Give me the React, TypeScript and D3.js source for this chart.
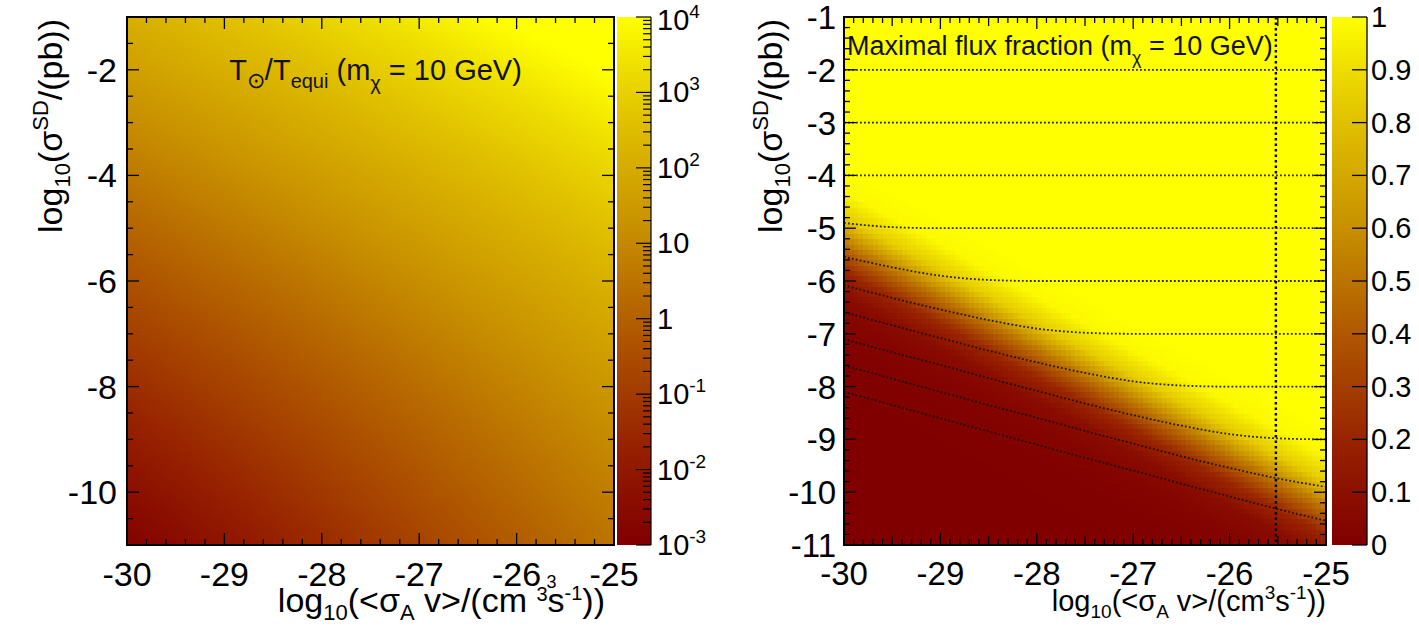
import React, { useEffect, useRef } from 'react';
import * as d3 from 'd3';

const FONT = '"Liberation Sans", Arial, Helvetica, sans-serif';

// ---- shared axis ranges ----
const xDomain = [-30, -25];
const yDomain = [-11, -1];
const xTickValues = [-30, -29, -28, -27, -26, -25];
const leftYTickValues = [-2, -4, -6, -8, -10];
const rightYTickValues = [-1, -2, -3, -4, -5, -6, -7, -8, -9, -10, -11];

// ---- colour palette (dark red -> yellow) ----
const paletteStops = [0, 0.1, 0.2, 0.3, 0.4, 0.5, 0.6, 0.7, 0.8, 0.9, 1];
const paletteColors = [
  '#800000', '#8c1000', '#982400', '#a43e00', '#b05800', '#bc7400',
  '#c89000', '#d4a800', '#e0c000', '#eedd00', '#ffff00',
];

// ---- left panel: log10(T_sun / T_equi) sampled on a 3x3 grid ----
const ratioGridX = [-30, -27.5, -25];
const ratioGridY = [-1, -6, -11];
const ratioLogRowTop = [2.1, 3.35, 4.6];
const ratioLogRowMid = [-0.4, 0.9, 2.2];
const ratioLogRowBottom = [-2.9, -1.1, 0.5];
const leftColorbarExponents = [4, 3, 2, 1, 0, -1, -2, -3];

// ---- right panel: maximal flux fraction ----
// y of the 50% level along the x axis
const edgeX = [-30, -29, -28, -27, -26, -25];
const edgeY = [-5.3, -6.3, -7.3, -8.3, -9.3, -10.3];
// fraction as a function of distance (in decades of sigma) above that level
const profileOffset = [-3, -2, -1.5, -1, -0.5, 0, 0.5, 1, 1.5];
const profileFraction = [0, 0.01, 0.025, 0.07, 0.21, 0.5, 0.84, 0.98, 1];
const rightColorbarTicks = [1, 0.9, 0.8, 0.7, 0.6, 0.5, 0.4, 0.3, 0.2, 0.1, 0];

// dotted iso-flux lines
const contourX = [-30, -29.5, -29, -28.5, -28, -27.5, -27, -26.5, -26, -25.5, -25];
const contourM2 = [-2, -2, -2, -2, -2, -2, -2, -2, -2, -2, -2];
const contourM3 = [-3, -3, -3, -3, -3, -3, -3, -3, -3, -3, -3];
const contourM4 = [-4, -4, -4, -4, -4, -4, -4, -4, -4, -4, -4];
const contourM5 = [-4.9, -4.98, -5, -5, -5, -5, -5, -5, -5, -5, -5];
const contourM6 = [-5.54, -5.74, -5.9, -5.98, -6, -6, -6, -6, -6, -6, -6];
const contourM7 = [-6.08, -6.32, -6.54, -6.74, -6.9, -6.98, -7, -7, -7, -7, -7];
const contourM8 = [-6.59, -6.84, -7.08, -7.32, -7.54, -7.74, -7.9, -7.98, -8, -8, -8];
const contourM9 = [-7.1, -7.35, -7.59, -7.84, -8.08, -8.32, -8.54, -8.74, -8.9, -8.98, -9];
const contourM10 = [-7.6, -7.85, -8.1, -8.35, -8.59, -8.84, -9.08, -9.32, -9.54, -9.74, -9.9];
const contourM11 = [-8.1, -8.35, -8.6, -8.85, -9.1, -9.35, -9.59, -9.84, -10.08, -10.32, -10.54];
const contourSets = [contourM2, contourM3, contourM4, contourM5, contourM6, contourM7, contourM8, contourM9, contourM10, contourM11];
// thermal relic cross-section, log10(3e-26)
const relicSigmaV = -25.52;

// ---- layout ----
const TOP = 17;
const BOTTOM = 545;
const LP = { x0: 127, x1: 614, cb0: 617, cb1: 651 };
const RP = { x0: 844, x1: 1326, cb0: 1332, cb1: 1367 };

const yScale = d3.scaleLinear().domain(yDomain).range([BOTTOM, TOP]);
const xLeft = d3.scaleLinear().domain(xDomain).range([LP.x0, LP.x1]);
const xRight = d3.scaleLinear().domain(xDomain).range([RP.x0, RP.x1]);
const leftCbScale = d3.scaleLog().domain([1e-3, 1e4]).range([BOTTOM, TOP]);
const rightCbScale = d3.scaleLinear().domain([0, 1]).range([BOTTOM, TOP]);

const palette = d3
  .scaleLinear<string>()
  .domain(paletteStops)
  .range(paletteColors)
  .interpolate(d3.interpolateRgb)
  .clamp(true);

const ratioGrid = [ratioLogRowTop, ratioLogRowMid, ratioLogRowBottom];

function lagrange3(nodes: number[], t: number): number[] {
  const [a, b, c] = nodes;
  return [
    ((t - b) * (t - c)) / ((a - b) * (a - c)),
    ((t - a) * (t - c)) / ((b - a) * (b - c)),
    ((t - a) * (t - b)) / ((c - a) * (c - b)),
  ];
}

function ratioLogAt(x: number, y: number): number {
  const wx = lagrange3(ratioGridX, x);
  const wy = lagrange3(ratioGridY, y);
  let v = 0;
  for (let j = 0; j < 3; j++) for (let i = 0; i < 3; i++) v += wy[j] * wx[i] * ratioGrid[j][i];
  return v;
}

const edgeScale = d3.scaleLinear().domain(edgeX).range(edgeY);
const profileScale = d3.scaleLinear().domain(profileOffset).range(profileFraction).clamp(true);

type Cell = { x0: number; x1: number; y0: number; y1: number; color: string };

function buildCells(nx: number, ny: number, colorAt: (x: number, y: number) => string): Cell[] {
  const cells: Cell[] = [];
  const dx = (xDomain[1] - xDomain[0]) / nx;
  const dy = (yDomain[1] - yDomain[0]) / ny;
  for (let i = 0; i < nx; i++) {
    for (let j = 0; j < ny; j++) {
      const x0 = xDomain[0] + i * dx;
      const y0 = yDomain[0] + j * dy;
      cells.push({ x0, x1: x0 + dx, y0, y1: y0 + dy, color: colorAt(x0 + dx / 2, y0 + dy / 2) });
    }
  }
  return cells;
}

function drawCells(node: SVGGElement | null, cells: Cell[], xs: d3.ScaleLinear<number, number>) {
  if (!node) return;
  const g = d3.select(node);
  g.selectAll('*').remove();
  g.selectAll('rect')
    .data(cells)
    .join('rect')
    .attr('x', (d) => xs(d.x0))
    .attr('y', (d) => yScale(d.y1))
    .attr('width', (d) => xs(d.x1) - xs(d.x0) + 0.6)
    .attr('height', (d) => yScale(d.y0) - yScale(d.y1) + 0.6)
    .attr('fill', (d) => d.color)
    .attr('shape-rendering', 'crispEdges');
}

function tickLines(
  values: number[],
  pos: (v: number) => number,
  lenOf: (v: number) => number,
  orient: 'x' | 'y',
  a: number,
  b: number,
  key: string
) {
  const out: JSX.Element[] = [];
  values.forEach((v, k) => {
    const p = pos(v);
    const len = lenOf(v);
    if (orient === 'x') {
      out.push(<line key={`${key}b${k}`} x1={p} x2={p} y1={a} y2={a - len} />);
      out.push(<line key={`${key}t${k}`} x1={p} x2={p} y1={b} y2={b + len} />);
    } else {
      out.push(<line key={`${key}l${k}`} x1={a} x2={a + len} y1={p} y2={p} />);
      out.push(<line key={`${key}r${k}`} x1={b} x2={b - len} y1={p} y2={p} />);
    }
  });
  return out;
}

const near = (v: number, step: number) => Math.abs(v / step - Math.round(v / step)) < 1e-6;

export default function App() {
  const leftRef = useRef<SVGGElement>(null);
  const rightRef = useRef<SVGGElement>(null);

  useEffect(() => {
    const leftCells = buildCells(120, 120, (x, y) => palette((ratioLogAt(x, y) + 3) / 7));
    drawCells(leftRef.current, leftCells, xLeft);
    const rightCells = buildCells(100, 100, (x, y) => palette(profileScale(y - edgeScale(x))));
    drawCells(rightRef.current, rightCells, xRight);
  }, []);

  const leftXMinor = d3.range(-30, -25 + 1e-9, 0.2);
  const leftYMinor = d3.range(-11, -1 + 1e-9, 0.5);
  const rightXMinor = d3.range(-30, -25 + 1e-9, 0.1);
  const rightYMinor = d3.range(-11, -1 + 1e-9, 0.2);

  const leftCbMinor: number[] = [];
  for (let e = -3; e < 4; e++) for (let m = 1; m < 10; m++) leftCbMinor.push(m * Math.pow(10, e));
  leftCbMinor.push(1e4);

  const contourLine = d3
    .line<number>()
    .x((_, i) => xRight(contourX[i]))
    .y((d) => yScale(d))
    .curve(d3.curveMonotoneX);

  const gradStops = paletteStops.map((s, i) => (
    <stop key={i} offset={`${s * 100}%`} stopColor={paletteColors[i]} />
  ));

  return (
    <svg
      width={1419}
      height={634}
      style={{ position: 'absolute', left: 0, top: 0, background: '#fff' }}
      fontFamily={FONT}
    >
      <defs>
        <linearGradient id="cbGrad" x1="0" y1="1" x2="0" y2="0">
          {gradStops}
        </linearGradient>
        <clipPath id="rightClip">
          <rect x={RP.x0} y={TOP} width={RP.x1 - RP.x0} height={BOTTOM - TOP} />
        </clipPath>
      </defs>

      {/* ================= left panel ================= */}
      <g ref={leftRef} />
      <g stroke="#000" strokeWidth={1.3}>
        {tickLines(leftXMinor, xLeft, (v) => (near(v, 1) ? 12 : 6), 'x', BOTTOM, TOP, 'lx')}
        {tickLines(leftYMinor, yScale, (v) => (near(v, 2) ? 12 : 6), 'y', LP.x0, LP.x1, 'ly')}
      </g>
      <rect x={LP.x0} y={TOP} width={LP.x1 - LP.x0} height={BOTTOM - TOP} fill="none" stroke="#000" strokeWidth={2} />

      <text x={(LP.x0 + LP.x1) / 2 + 5} y={80} fontSize={29} textAnchor="middle" fill="#111">
        T<tspan fontSize={22} dy={8}>⊙</tspan>
        <tspan dy={-8}>/T</tspan>
        <tspan fontSize={20} dy={8}>equi</tspan>
        <tspan dy={-8}> (m</tspan>
        <tspan fontSize={20} dy={10}>χ</tspan>
        <tspan dy={-10}> = 10 GeV)</tspan>
      </text>

      {/* left colour bar */}
      <rect x={LP.cb0} y={TOP} width={LP.cb1 - LP.cb0} height={BOTTOM - TOP} fill="url(#cbGrad)" />
      <g stroke="#000" strokeWidth={1.2}>
        <line x1={LP.cb1} x2={LP.cb1} y1={TOP} y2={BOTTOM} />
        {leftCbMinor.map((v, i) => {
          const major = near(Math.log10(v), 1);
          return <line key={`lcb${i}`} x1={LP.cb1} x2={LP.cb1 - (major ? 15 : 8)} y1={leftCbScale(v)} y2={leftCbScale(v)} />;
        })}
      </g>
      {leftColorbarExponents.map((e) => {
        const y = leftCbScale(Math.pow(10, e)) + (e === 4 ? 13 : 10);
        if (e === 0) return <text key={`lcl${e}`} x={LP.cb1 + 6} y={y} fontSize={29}>1</text>;
        if (e === 1) return <text key={`lcl${e}`} x={LP.cb1 + 6} y={y} fontSize={29}>10</text>;
        return (
          <text key={`lcl${e}`} x={LP.cb1 + 6} y={y} fontSize={29}>
            10<tspan fontSize={19} dy={-12}>{String(e)}</tspan>
          </text>
        );
      })}

      {/* left axes labels */}
      {xTickValues.map((v) => (
        <text key={`lxt${v}`} x={xLeft(v)} y={586} fontSize={34} textAnchor="middle">{String(v)}</text>
      ))}
      <text x={xLeft(-26) + 30} y={588} fontSize={18}>3</text>
      {leftYTickValues.map((v) => (
        <text key={`lyt${v}`} x={117} y={yScale(v) + 12} fontSize={34} textAnchor="end">{String(v)}</text>
      ))}
      <text x={605} y={612} fontSize={34} textAnchor="end">
        log<tspan fontSize={22} dy={8}>10</tspan>
        <tspan dy={-8}>(&lt;σ</tspan>
        <tspan fontSize={22} dy={8}>A</tspan>
        <tspan dy={-8}> v&gt;/(cm </tspan>
        <tspan fontSize={20} dy={-11}>3</tspan>
        <tspan dy={11}>s</tspan>
        <tspan fontSize={20} dy={-12}>-1</tspan>
        <tspan dy={12}>))</tspan>
      </text>
      <text transform={`translate(62, ${TOP + 2}) rotate(-90)`} fontSize={34} textAnchor="end">
        log<tspan fontSize={22} dy={8}>10</tspan>
        <tspan dy={-8}>(σ</tspan>
        <tspan fontSize={22} dy={-14}>SD</tspan>
        <tspan dy={14}>/(pb))</tspan>
      </text>

      {/* ================= right panel ================= */}
      <g ref={rightRef} />
      <g clipPath="url(#rightClip)" fill="none" stroke="#111" strokeWidth={1.8} strokeDasharray="1.8 2.2" opacity={0.9}>
        {contourSets.map((ys, i) => (
          <path key={`ctr${i}`} d={contourLine(ys) || ''} />
        ))}
      </g>
      <line
        x1={xRight(relicSigmaV)}
        x2={xRight(relicSigmaV)}
        y1={yScale(-1)}
        y2={yScale(-11)}
        stroke="#000"
        strokeWidth={2.4}
        strokeDasharray="2.5 3"
      />
      <g stroke="#000" strokeWidth={1.3}>
        {tickLines(rightXMinor, xRight, (v) => (near(v, 1) ? 12 : near(v, 0.5) ? 9 : 6), 'x', BOTTOM, TOP, 'rx')}
        {tickLines(rightYMinor, yScale, (v) => (near(v, 1) ? 12 : 6), 'y', RP.x0, RP.x1, 'ry')}
      </g>
      <rect x={RP.x0} y={TOP} width={RP.x1 - RP.x0} height={BOTTOM - TOP} fill="none" stroke="#000" strokeWidth={2} />

      <text x={RP.x0 + 3} y={55} fontSize={27} fill="#111">
        Maximal flux fraction (m<tspan fontSize={18} dy={9}>χ</tspan>
        <tspan dy={-9}> = 10 GeV)</tspan>
      </text>

      {/* right colour bar */}
      <rect x={RP.cb0} y={TOP} width={RP.cb1 - RP.cb0} height={BOTTOM - TOP} fill="url(#cbGrad)" />
      <g stroke="#000" strokeWidth={1.3}>
        <line x1={RP.cb1} x2={RP.cb1} y1={TOP} y2={BOTTOM} />
        {rightColorbarTicks.map((v) => (
          <line key={`rcb${v}`} x1={RP.cb1} x2={RP.cb1 - 15} y1={rightCbScale(v)} y2={rightCbScale(v)} />
        ))}
      </g>
      {rightColorbarTicks.map((v) => (
        <text key={`rcl${v}`} x={RP.cb1 + 4} y={rightCbScale(v) + 10} fontSize={29}>{String(v)}</text>
      ))}

      {/* right axes labels */}
      {xTickValues.map((v) => (
        <text key={`rxt${v}`} x={xRight(v)} y={585} fontSize={33} textAnchor="middle">{String(v)}</text>
      ))}
      {rightYTickValues.map((v) => (
        <text key={`ryt${v}`} x={836} y={yScale(v) + 12} fontSize={33} textAnchor="end">{String(v)}</text>
      ))}
      <text x={RP.x1} y={611} fontSize={29} textAnchor="end">
        log<tspan fontSize={19} dy={7}>10</tspan>
        <tspan dy={-7}>(&lt;σ</tspan>
        <tspan fontSize={19} dy={7}>A</tspan>
        <tspan dy={-7}> v&gt;/(cm</tspan>
        <tspan fontSize={19} dy={-12}>3</tspan>
        <tspan dy={12}>s</tspan>
        <tspan fontSize={19} dy={-12}>-1</tspan>
        <tspan dy={12}>))</tspan>
      </text>
      <text transform={`translate(782, ${TOP + 2}) rotate(-90)`} fontSize={34} textAnchor="end">
        log<tspan fontSize={22} dy={8}>10</tspan>
        <tspan dy={-8}>(σ</tspan>
        <tspan fontSize={22} dy={-14}>SD</tspan>
        <tspan dy={14}>/(pb))</tspan>
      </text>
    </svg>
  );
}
